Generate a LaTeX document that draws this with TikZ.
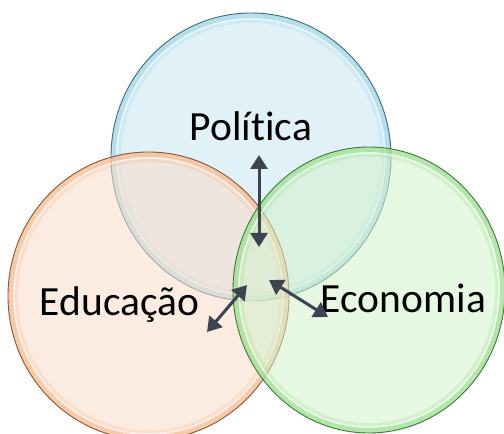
\documentclass[tikz,border=0pt]{standalone}
\usepackage{fontspec}
\setmainfont{Carlito}[Ligatures={NoCommon,NoContextual}]
\usetikzlibrary{arrows.meta}

\definecolor{bluefill}{HTML}{C9E7F3}
\definecolor{bluerim}{HTML}{8FCFE2}
\definecolor{blueline}{HTML}{3D6C78}
\definecolor{orangefill}{HTML}{F9DCC9}
\definecolor{orangerim}{HTML}{F4AE78}
\definecolor{orangeline}{HTML}{8A5533}
\definecolor{greenfill}{HTML}{D3F1CB}
\definecolor{greenrim}{HTML}{86D877}
\definecolor{greenline}{HTML}{3E7A36}
\definecolor{arrowcol}{HTML}{3C4450}

\tikzset{
  label text/.style={font=\fontsize{41.5}{49}\selectfont, text=black, inner sep=0pt, anchor=base},
  link/.style={draw=arrowcol, line width=3pt,
    {Triangle[length=14pt,width=17pt]}-{Triangle[length=14pt,width=17pt]}},
}

% glassy disc: #1 centre, #2 x radius, #3 y radius, #4 fill, #5 rim glow, #6 outline
\newcommand{\glassdisc}[6]{%
  \fill[#4, fill opacity=0.55] (#1) ellipse [x radius=#2, y radius=#3];
  \draw[#5, line width=10pt, opacity=0.2] (#1) ellipse [x radius=#2-5, y radius=#3-5];
  \draw[#5, line width=5pt, opacity=0.4] (#1) ellipse [x radius=#2-2.5, y radius=#3-2.5];
  \draw[white, line width=1.5pt, opacity=0.6] (#1) ellipse [x radius=#2-6, y radius=#3-6];
  \draw[#6, line width=0.9pt] (#1) ellipse [x radius=#2, y radius=#3];
}

\begin{document}
\begin{tikzpicture}[x=1pt,y=1pt]
  \useasboundingbox (0,0) rectangle (504,434);
  \fill[white] (0,0) rectangle (504,434);

  \coordinate (cPol) at (251,277);
  \coordinate (cEdu) at (148.5,138);
  \coordinate (cEco) at (369,144);

  \begin{scope}
    \clip (0,0) rectangle (504,434);
    \glassdisc{cPol}{140}{144}{bluefill}{bluerim}{blueline}
    \glassdisc{cEdu}{140.5}{144}{orangefill}{orangerim}{orangeline}
    \glassdisc{cEco}{136}{143}{greenfill}{greenrim}{greenline}
  \end{scope}

  \node[label text] (pol) at (251,293) {Política};
  \node[label text] (edu) at (119.5,118) {Educação};
  \node[label text] (eco) at (403.5,121.5) {Economia};

  \coordinate (polA) at (259,279);
  \coordinate (polB) at (259,187);
  \coordinate (eduA) at (247,149);
  \coordinate (eduB) at (207,102);
  \coordinate (ecoA) at (269,154);
  \coordinate (ecoB) at (328,117);

  \draw[link] (polA) -- (polB);
  \draw[link] (eduA) -- (eduB);
  \draw[link] (ecoA) -- (ecoB);
\end{tikzpicture}
\end{document}
